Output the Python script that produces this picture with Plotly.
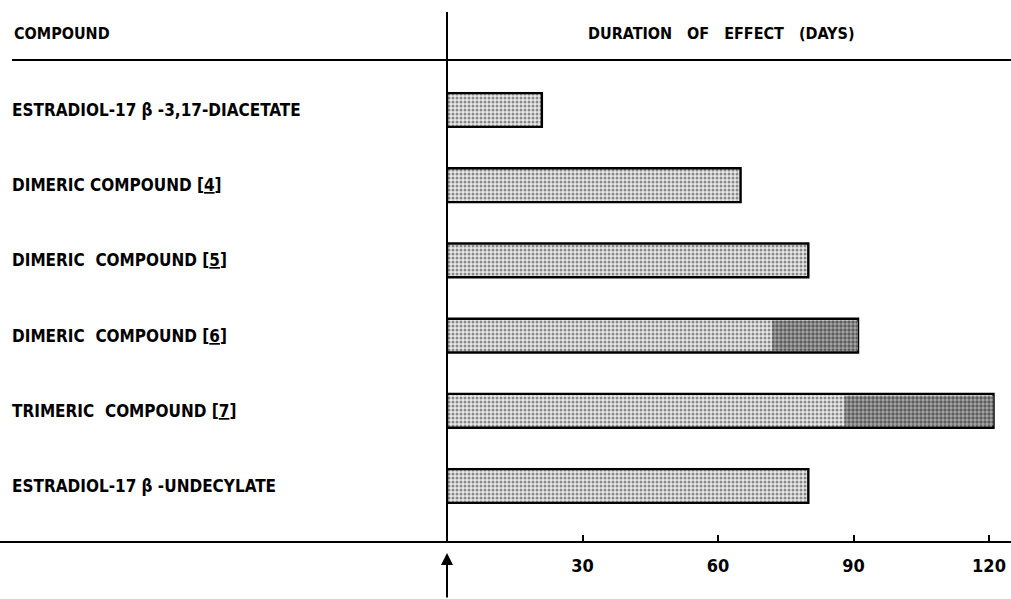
import plotly.graph_objects as go

compounds = [
    "ESTRADIOL-17 β -3,17-DIACETATE",
    "DIMERIC COMPOUND [<u>4</u>]",
    "DIMERIC  COMPOUND [<u>5</u>]",
    "DIMERIC  COMPOUND [<u>6</u>]",
    "TRIMERIC  COMPOUND [<u>7</u>]",
    "ESTRADIOL-17 β -UNDECYLATE",
]
duration_days = [21, 65, 80, 91, 121, 80]
# start of the darker (denser) halftone zone at the end of some bars
dark_from = [None, None, None, 72, 88, None]
tick_vals = [30, 60, 90, 120]
tick_text = ["30", "60", "90", "120"]

W, H = 1011, 599
X0, TOP, BOT = 447, 60, 542
FONT = "Liberation Sans Narrow, DejaVu Sans Condensed, Arial Narrow, sans-serif"

ypos = list(range(len(compounds)))

fig = go.Figure()
fig.add_trace(go.Bar(
    y=ypos, x=duration_days, orientation="h", width=0.45,
    marker=dict(color="white", line=dict(color="black", width=2.4),
                pattern=dict(shape=".", fgcolor="#2a2a2a", bgcolor="#e8e8e8",
                             size=4, solidity=0.45)),
    hoverinfo="x",
))
dy = [y for y, d in zip(ypos, dark_from) if d is not None]
db = [d for d in dark_from if d is not None]
dx = [v - d for v, d in zip(duration_days, dark_from) if d is not None]
fig.add_trace(go.Bar(
    y=dy, x=dx, base=db, orientation="h", width=0.40,
    marker=dict(color="white", line=dict(width=0),
                pattern=dict(shape=".", fgcolor="#111111", bgcolor="#a8a8a8",
                             size=4, solidity=0.55)),
    hoverinfo="skip",
))

px_per_day = (989 - 447) / 120.0
xmax = (W - X0) / px_per_day
row_h = 75.2
first_c = 110
y_top = -(first_c - TOP) / row_h
y_bot = (BOT - first_c) / row_h

fig.update_layout(
    width=W, height=H, margin=dict(l=0, r=0, t=0, b=0),
    paper_bgcolor="white", plot_bgcolor="white", showlegend=False,
    barmode="overlay",
    xaxis=dict(domain=[X0 / W, 1], range=[0, xmax], tickvals=tick_vals,
               ticktext=tick_text, ticks="inside", ticklen=7, tickwidth=2,
               tickcolor="black", showgrid=False, zeroline=False,
               showline=False, ticklabelstandoff=11,
               tickfont=dict(family=FONT, size=18, color="black", weight="bold")),
    yaxis=dict(domain=[1 - BOT / H, 1 - TOP / H], range=[y_bot, y_top],
               showticklabels=False, showgrid=False, zeroline=False,
               showline=False, ticks=""),
)

shapes = [
    dict(type="line", xref="paper", yref="paper", x0=12 / W, x1=1,
         y0=1 - TOP / H, y1=1 - TOP / H, line=dict(color="black", width=2)),
    dict(type="line", xref="paper", yref="paper", x0=0, x1=1,
         y0=1 - BOT / H, y1=1 - BOT / H, line=dict(color="black", width=2)),
    dict(type="line", xref="paper", yref="paper", x0=X0 / W, x1=X0 / W,
         y0=1 - BOT / H, y1=1 - 12 / H, line=dict(color="black", width=2)),
]
fig.update_layout(shapes=shapes)

ann = []
for y, name in zip(ypos, compounds):
    ann.append(dict(xref="paper", yref="y", x=10 / W, y=y, text="<b>" + name + "</b>",
                    showarrow=False, xanchor="left", yanchor="middle",
                    font=dict(family=FONT, size=17, color="black")))
ann.append(dict(xref="paper", yref="paper", x=12 / W, y=1 - 33 / H,
                text="<b>COMPOUND</b>", showarrow=False, xanchor="left",
                yanchor="middle", font=dict(family=FONT, size=16, color="black")))
ann.append(dict(xref="paper", yref="paper", x=721 / W, y=1 - 33 / H,
                text="<b>DURATION   OF   EFFECT   (DAYS)</b>", showarrow=False,
                xanchor="center", yanchor="middle",
                font=dict(family=FONT, size=16, color="black")))
ann.append(dict(xref="paper", yref="paper", x=X0 / W, y=1 - 553 / H, text="",
                showarrow=True, ax=0, ay=48, axref="pixel", ayref="pixel",
                arrowhead=2, arrowsize=1.2, arrowwidth=2, arrowcolor="black"))
fig.update_layout(annotations=ann)

fig.write_html("out.html", config={"displayModeBar": False},
               post_script="document.body.style.margin='0px';document.body.style.padding='0px';")
